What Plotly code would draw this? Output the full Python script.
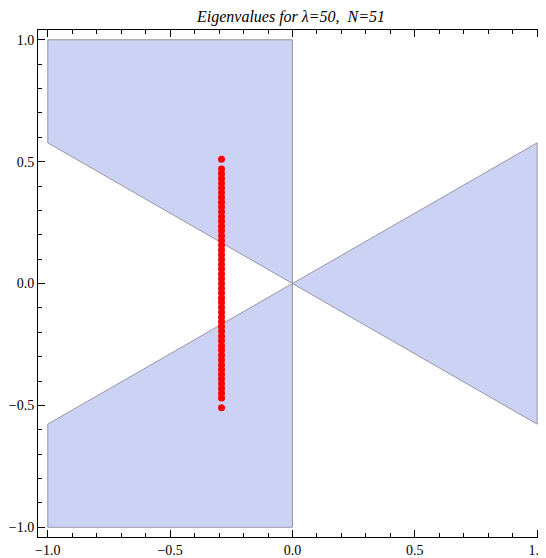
import plotly.graph_objects as go

# shaded regions (polygon vertices)
upper_x = [-1.0, 0.0, 0.0, -1.0, -1.0]
upper_y = [1.0, 1.0, 0.0, 0.577, 1.0]
lower_x = [-1.0, 0.0, 0.0, -1.0, -1.0]
lower_y = [-1.0, -1.0, 0.0, -0.577, -1.0]
right_x = [0.0, 1.0, 1.0, 0.0]
right_y = [0.0, 0.577, -0.577, 0.0]

# eigenvalues (real part, imaginary part)
eig_im = [0.510,
          0.470, 0.450, 0.431, 0.411, 0.392, 0.372, 0.353, 0.333, 0.314, 0.294,
          0.274, 0.255, 0.235, 0.216, 0.196, 0.176, 0.157, 0.137, 0.118, 0.098,
          0.078, 0.059, 0.039, 0.020, 0.000, -0.020, -0.039, -0.059, -0.078,
          -0.098, -0.118, -0.137, -0.157, -0.176, -0.196, -0.216, -0.235,
          -0.255, -0.274, -0.294, -0.314, -0.333, -0.353, -0.372, -0.392,
          -0.411, -0.431, -0.450, -0.470,
          -0.510]
eig_re = [-0.29] * len(eig_im)

# frame tick labels
tick_vals = [-1.0, -0.5, 0.0, 0.5, 1.0]
tick_text = ["\u22121.0", "\u22120.5", "0.0", "0.5", "1.0"]

fill_col = "rgb(204,210,244)"
edge_col = "rgb(150,150,165)"
font_family = "Liberation Serif, Times New Roman, serif"

fig = go.Figure()

# regions
for xs, ys in [(upper_x, upper_y), (lower_x, lower_y), (right_x, right_y)]:
    fig.add_trace(go.Scatter(
        x=xs, y=ys,
        mode="lines",
        fill="toself",
        fillcolor=fill_col,
        line=dict(color=edge_col, width=1),
        hoverinfo="skip",
        showlegend=False,
    ))

# eigenvalues
fig.add_trace(go.Scatter(
    x=eig_re, y=eig_im,
    mode="markers",
    marker=dict(color="rgb(255,0,0)", size=7, line=dict(width=0)),
    showlegend=False,
))

tick_font = dict(family=font_family, size=14, color="black")

# the page body adds an 8px margin, so the figure is 8px smaller than the window
fig.update_layout(
    width=538,
    height=550,
    margin=dict(l=30, r=0, t=22, b=11),
    paper_bgcolor="white",
    plot_bgcolor="white",
    title=dict(
        text="<i>Eigenvalues for λ=50, \u00a0N=51</i>",
        font=dict(family=font_family, size=16, color="black"),
        x=0.5, xref="paper", xanchor="center",
        y=1 - 8 / 550, yref="container", yanchor="middle",
    ),
    xaxis=dict(
        range=[-1.04, 1.028],
        showgrid=False, zeroline=False,
        showline=True, linecolor="black", linewidth=1, mirror="ticks",
        ticks="inside", ticklen=7, tickcolor="black", tickwidth=1,
        tickmode="array", tickvals=tick_vals, ticktext=tick_text,
        ticklabeloverflow="allow",
        minor=dict(ticks="inside", ticklen=4, dtick=0.1, tick0=0,
                   tickcolor="black", showgrid=False),
        tickfont=tick_font,
    ),
    yaxis=dict(
        range=[-1.04, 1.04],
        showgrid=False, zeroline=False,
        showline=True, linecolor="black", linewidth=1, mirror=False,
        ticks="inside", ticklen=7, tickcolor="black", tickwidth=1,
        tickmode="array", tickvals=tick_vals, ticktext=tick_text,
        minor=dict(ticks="inside", ticklen=4, dtick=0.1, tick0=0,
                   tickcolor="black", showgrid=False),
        tickfont=tick_font,
    ),
    # right frame ticks (the frame line itself lies just outside the page)
    yaxis2=dict(
        range=[-1.04, 1.04],
        overlaying="y", side="right",
        showgrid=False, zeroline=False, showline=False,
        showticklabels=False,
        ticks="inside", ticklen=4, tickcolor="black", tickwidth=1,
        tick0=0, dtick=0.5,
        minor=dict(ticks="inside", ticklen=1, dtick=0.1, tick0=0,
                   tickcolor="black", showgrid=False),
    ),
)

fig.write_html("out.html")
